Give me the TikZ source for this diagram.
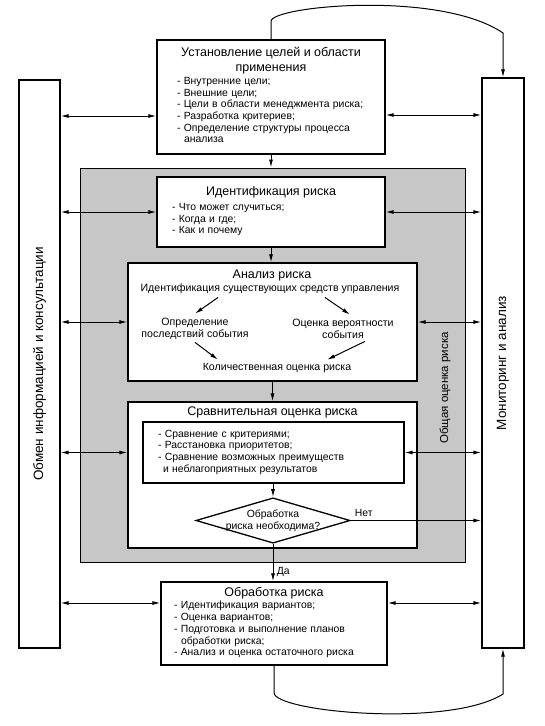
\documentclass[tikz,border=0pt]{standalone}
\usepackage{fontspec}
\setmainfont{Liberation Sans}
\usepackage{graphicx}
\usetikzlibrary{arrows.meta,shapes.geometric,positioning}
\setlength{\parindent}{0pt}
\definecolor{assessgray}{gray}{0.78}
\newcommand{\titlesize}{\fontsize{12.5}{14.5}\selectfont}
\newcommand{\barsize}{\fontsize{13.5}{16}\selectfont}
\newcommand{\bodysize}{\fontsize{10.6}{12.2}\selectfont}
\newcommand{\listsize}{\fontsize{10.4}{11.7}\selectfont}
\newcommand{\itemlines}[1]{\listsize\begin{tabular}[t]{@{}l@{}}#1\end{tabular}}

\begin{document}
\begin{tikzpicture}[x=1pt, y=-1pt,
	stepbox/.style={draw, line width=1.3pt, fill=white, inner sep=0pt},
	sidebar/.style={draw, line width=1.3pt, fill=white, inner sep=0pt, font=\barsize},
	titletext/.style={font=\titlesize},
	bodytext/.style={font=\bodysize, align=center},
	flow/.style={line width=1pt, -{Latex[length=8pt,width=4pt]}},
	dual/.style={line width=1pt, {Latex[length=8pt,width=4pt]}-{Latex[length=8pt,width=4pt]}}]
	\useasboundingbox (0,0) rectangle (545,726);
	% общая оценка риска
	\node (assess) [draw, line width=1pt, fill=assessgray, minimum width=385pt, minimum height=394pt] at (272.5,365) {};
	\node (assesslabel) [font=\fontsize{11.5}{13}\selectfont] at (445,388) {\rotatebox{90}{Общая оценка риска}};
	% боковые полосы
	\node (info) [sidebar, minimum width=41pt, minimum height=568pt] at (39.5,364) {\rotatebox{90}{Обмен информацией и консультации}};
	\node (monitor) [sidebar, minimum width=42pt, minimum height=570pt] at (503,363) {\rotatebox{90}{Мониторинг и анализ}};
	% этапы
	\node (goals) [stepbox, text width=188pt, minimum width=228pt, minimum height=114pt] at (271,97) {%
		{\centering\titlesize Установление целей и области\\ применения\par}\vspace{1pt}%
		\itemlines{- Внутренние цели;\\ - Внешние цели;\\ - Цели в области менеджмента риска;\\ - Разработка критериев;\\ - Определение структуры процесса\\ \hspace{7pt}анализа}};
	\node (ident) [stepbox, text width=198pt, minimum width=228pt, minimum height=70pt] at (271,212) {%
		{\centering\titlesize Идентификация риска\par}\vspace{3pt}%
		\itemlines{- Что может случиться;\\ - Когда и где;\\ - Как и почему}};
	\node (analysis) [stepbox, minimum width=289pt, minimum height=118pt] at (272.5,322) {};
	\node (atitle) [titletext] at (272,275) {Анализ риска};
	\node (controls) [bodytext] at (270,289) {Идентификация существующих средств управления};
	\node (conseq) [bodytext] at (195,329) {Определение\\последствий события};
	\node (likely) [bodytext] at (343,329) {Оценка вероятности\\события};
	\node (level) [bodytext] at (277,368) {Количественная оценка риска};
	\draw[flow] ([xshift=-52pt]controls.south) -- ([yshift=1pt]conseq.north);
	\draw[flow] ([xshift=55pt]controls.south) -- ([xshift=7pt, yshift=1pt]likely.north);
	\draw[flow] ([yshift=1pt]conseq.south) -- ([xshift=-59pt]level.north);
	\draw[flow] ([xshift=22pt, yshift=1pt]likely.south) -- ([xshift=50pt]level.north);
	\node (compare) [stepbox, minimum width=289pt, minimum height=146pt] at (272.5,475) {};
	\node (ctitle) [titletext] at (272.5,412) {Сравнительная оценка риска};
	\node (criteria) [stepbox, text width=231pt, minimum width=261pt, minimum height=61pt] at (273.5,452.5) {%
		\itemlines{- Сравнение с критериями;\\ - Расстановка приоритетов;\\ - Сравнение возможных преимуществ\\ \hspace{5pt}и неблагоприятных результатов}};
	\node (decide) [diamond, draw, line width=1.3pt, fill=white, aspect=3.4, inner sep=-1.5pt, align=center, font=\listsize] at (273,520.5) {Обработка\\риска необходима?};
	\node (treat) [stepbox, text width=200pt, minimum width=226pt, minimum height=83pt] at (274,623.5) {%
		{\centering\titlesize Обработка риска\par}%
		\itemlines{- Идентификация вариантов;\\ - Оценка вариантов;\\ - Подготовка и выполнение планов\\ \hspace{7pt}обработки риска;\\ - Анализ и оценка остаточного риска}};
	% обмен информацией
	\draw[dual] (info.east |- 0,116) -- (goals.west |- 0,116);
	\draw[dual] (info.east |- ident.west) -- (ident.west);
	\draw[dual] (info.east |- analysis.west) -- (analysis.west);
	\draw[dual] (info.east |- criteria.west) -- (compare.west |- criteria.west);
	\draw[dual] (info.east |- 0,603) -- (treat.west |- 0,603);
	% мониторинг
	\draw[dual] (goals.east |- 0,115) -- (monitor.west |- 0,115);
	\draw[dual] (ident.east) -- (monitor.west |- ident.east);
	\draw[dual] (analysis.east) -- (monitor.west |- analysis.east);
	\draw[dual] (criteria.east) -- (monitor.west |- criteria.east);
	\draw[flow] (decide.east) -- node (no) [pos=0.1, above, font=\listsize] {Нет} (monitor.west |- decide.east);
	\draw[dual] (treat.east |- 0,603) -- (monitor.west |- 0,603);
	% основной поток
	\draw[flow] (goals.south) -- (goals.south |- assess.north);
	\draw[flow] (ident.south) -- (ident.south |- analysis.north);
	\draw[flow] (analysis.south) -- (analysis.south |- compare.north);
	\draw[flow] (decide.north |- criteria.south) -- (decide.north);
	\draw[flow] (decide.south) -- node (yes) [pos=0.74, right, font=\listsize] {Да} (decide.south |- treat.north);
	% обратная связь
	\draw[flow] (goals.north) -- ++(0,-18) .. controls (271,6) and (440,-10) .. (monitor.north |- 0,33) -- (monitor.north);
	\draw[flow] (treat.south) -- ++(0,27) .. controls (274,712) and (450,728) .. (monitor.south |- 0,694) -- (monitor.south);
\end{tikzpicture}
\end{document}
